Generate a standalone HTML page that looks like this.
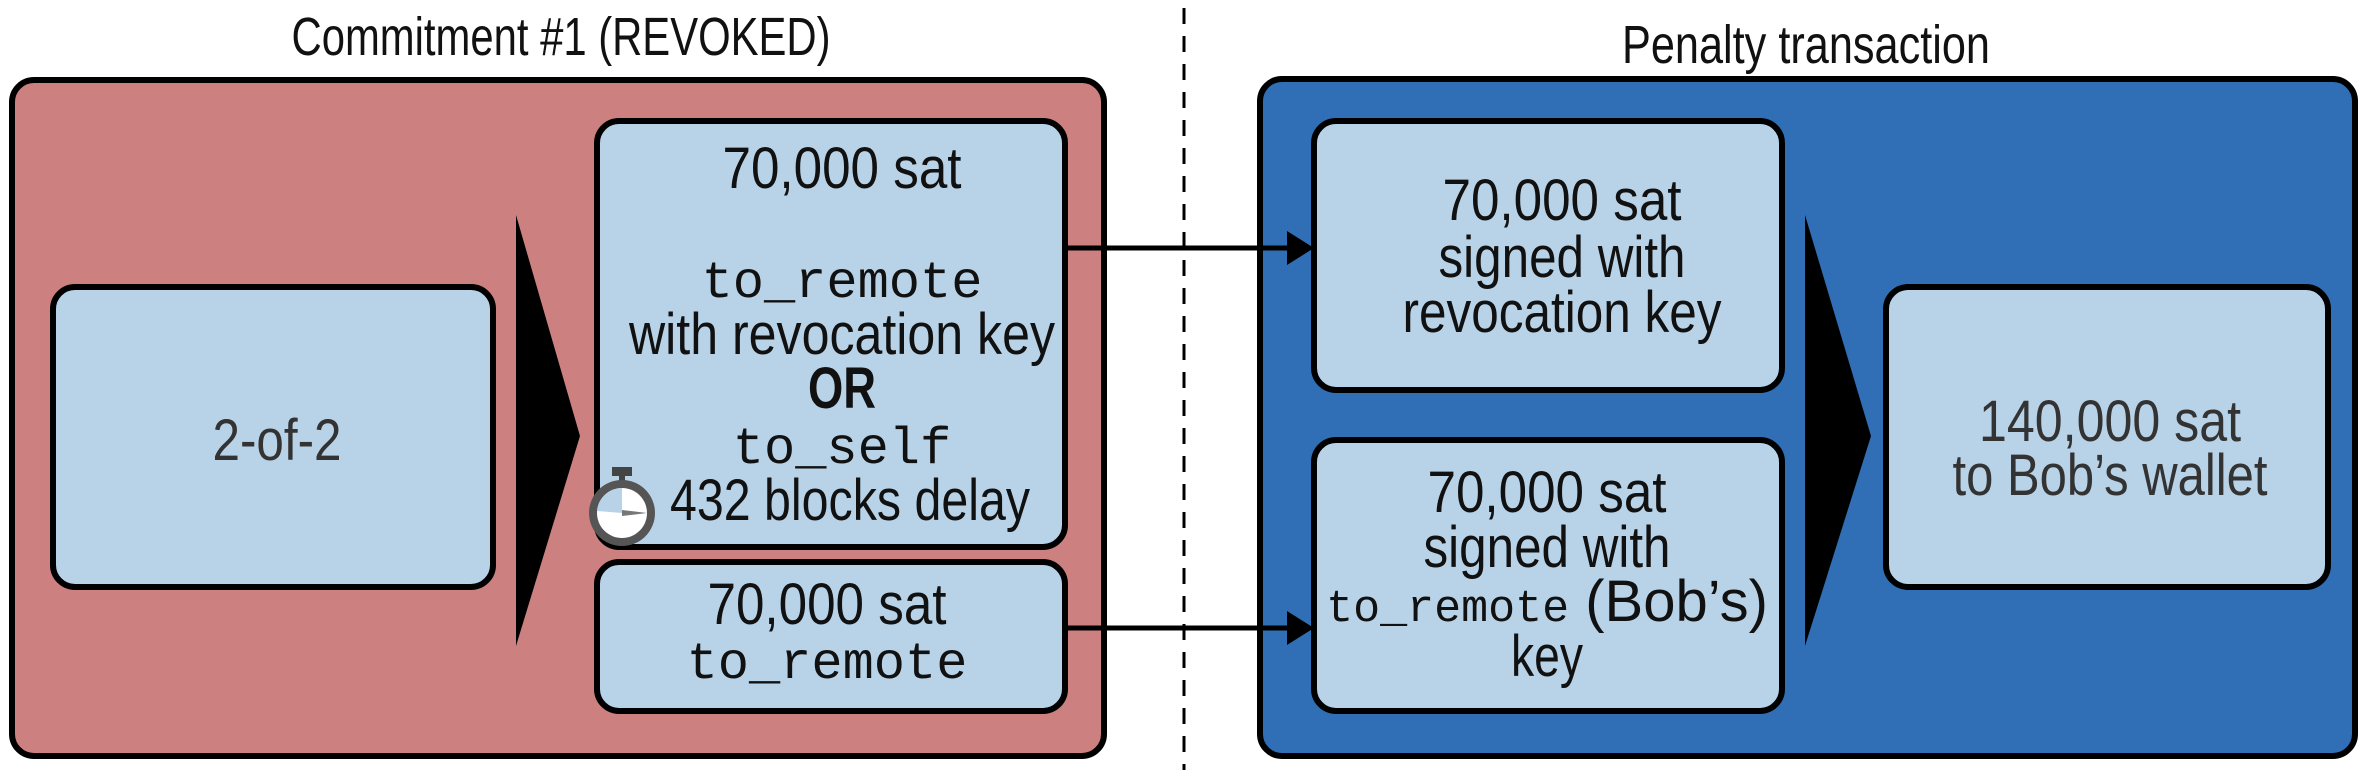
<!DOCTYPE html>
<html><head><meta charset="utf-8"><style>
html,body{margin:0;padding:0;background:#fff;}
svg{display:block;}
.t{font-family:"Liberation Sans Narrow","Liberation Sans",sans-serif;font-size:58px;fill:#111;text-anchor:middle;}
.g{fill:#333;}
.m{font-family:"Liberation Mono",monospace;font-size:52px;fill:#111;text-anchor:middle;}
.h{font-family:"Liberation Sans Narrow","Liberation Sans",sans-serif;font-size:54px;fill:#111;text-anchor:middle;}
.box{fill:#B8D3E8;stroke:#000;stroke-width:6;}
</style></head><body>
<svg width="2380" height="774" viewBox="0 0 2380 774" xmlns="http://www.w3.org/2000/svg">
<line x1="1184" y1="8" x2="1184" y2="770" stroke="#000" stroke-width="3" stroke-dasharray="16,12"/>
<text class="h" x="561" y="55" textLength="539" lengthAdjust="spacingAndGlyphs">Commitment #1 (REVOKED)</text>
<text class="h" x="1806" y="63" textLength="368" lengthAdjust="spacingAndGlyphs">Penalty transaction</text>
<rect x="12" y="80" width="1092" height="676" rx="22" fill="#CD8080" stroke="#000" stroke-width="6"/>
<rect x="1260" y="79" width="1095" height="677" rx="22" fill="#306EB5" stroke="#000" stroke-width="6"/>
<rect class="box" x="53" y="287" width="440" height="300" rx="22"/>
<polygon points="516,215 580,436 516,646" fill="#000"/>
<rect class="box" x="597" y="121" width="468" height="426" rx="22"/>
<rect class="box" x="597" y="562" width="468" height="149" rx="22"/>
<rect class="box" x="1314" y="121" width="468" height="269" rx="22"/>
<rect class="box" x="1314" y="440" width="468" height="271" rx="22"/>
<polygon points="1805,215 1871,436 1805,646" fill="#000"/>
<rect class="box" x="1886" y="287" width="442" height="300" rx="22"/>
<line x1="1065" y1="248" x2="1290" y2="248" stroke="#000" stroke-width="5"/>
<polygon points="1287,231 1314,248 1287,265" fill="#000"/>
<line x1="1065" y1="628" x2="1290" y2="628" stroke="#000" stroke-width="5"/>
<polygon points="1287,611 1314,628 1287,645" fill="#000"/>
<text class="t g" x="277" y="460" textLength="129" lengthAdjust="spacingAndGlyphs">2-of-2</text>
<text class="t" x="842" y="188" textLength="239" lengthAdjust="spacingAndGlyphs">70,000 sat</text>
<text class="m" x="842" y="297">to_remote</text>
<text class="t" x="842" y="354" textLength="426" lengthAdjust="spacingAndGlyphs">with revocation key</text>
<text class="t" x="842" y="408" font-weight="bold" textLength="68" lengthAdjust="spacingAndGlyphs">OR</text>
<text class="m" x="842" y="463">to_self</text>
<text class="t" x="850" y="520" textLength="360" lengthAdjust="spacingAndGlyphs">432 blocks delay</text>
<g>
<rect x="612" y="467" width="20" height="9" fill="#444"/>
<rect x="619" y="474" width="6" height="8" fill="#444"/>
<circle cx="622" cy="513" r="33" fill="#555"/>
<circle cx="622" cy="513" r="25" fill="#fff"/>
<path d="M622,513 L622,488 A25,25 0 0,0 597,511 Z" fill="#B8D3E8"/>
<polygon points="622,510 647,513 622,516" fill="#777"/>
</g>
<text class="t" x="827" y="624" textLength="239" lengthAdjust="spacingAndGlyphs">70,000 sat</text>
<text class="m" x="827" y="678">to_remote</text>
<text class="t" x="1562" y="220" textLength="239" lengthAdjust="spacingAndGlyphs">70,000 sat</text>
<text class="t" x="1562" y="277" textLength="247" lengthAdjust="spacingAndGlyphs">signed with</text>
<text class="t" x="1562" y="332" textLength="319" lengthAdjust="spacingAndGlyphs">revocation key</text>
<text class="t" x="1547" y="512" textLength="239" lengthAdjust="spacingAndGlyphs">70,000 sat</text>
<text class="t" x="1547" y="567" textLength="247" lengthAdjust="spacingAndGlyphs">signed with</text>
<text x="1547" y="621" text-anchor="middle"><tspan style="font-family:'Liberation Mono',monospace;font-size:45px;fill:#111">to_remote</tspan><tspan style="font-family:'Liberation Sans Narrow','Liberation Sans',sans-serif;font-size:58px;fill:#111"> (Bob’s)</tspan></text>
<text class="t" x="1547" y="676" textLength="72" lengthAdjust="spacingAndGlyphs">key</text>
<text class="t g" x="2110" y="441" textLength="262" lengthAdjust="spacingAndGlyphs">140,000 sat</text>
<text class="t g" x="2110" y="495" textLength="315" lengthAdjust="spacingAndGlyphs">to Bob’s wallet</text>
</svg>
</body></html>
